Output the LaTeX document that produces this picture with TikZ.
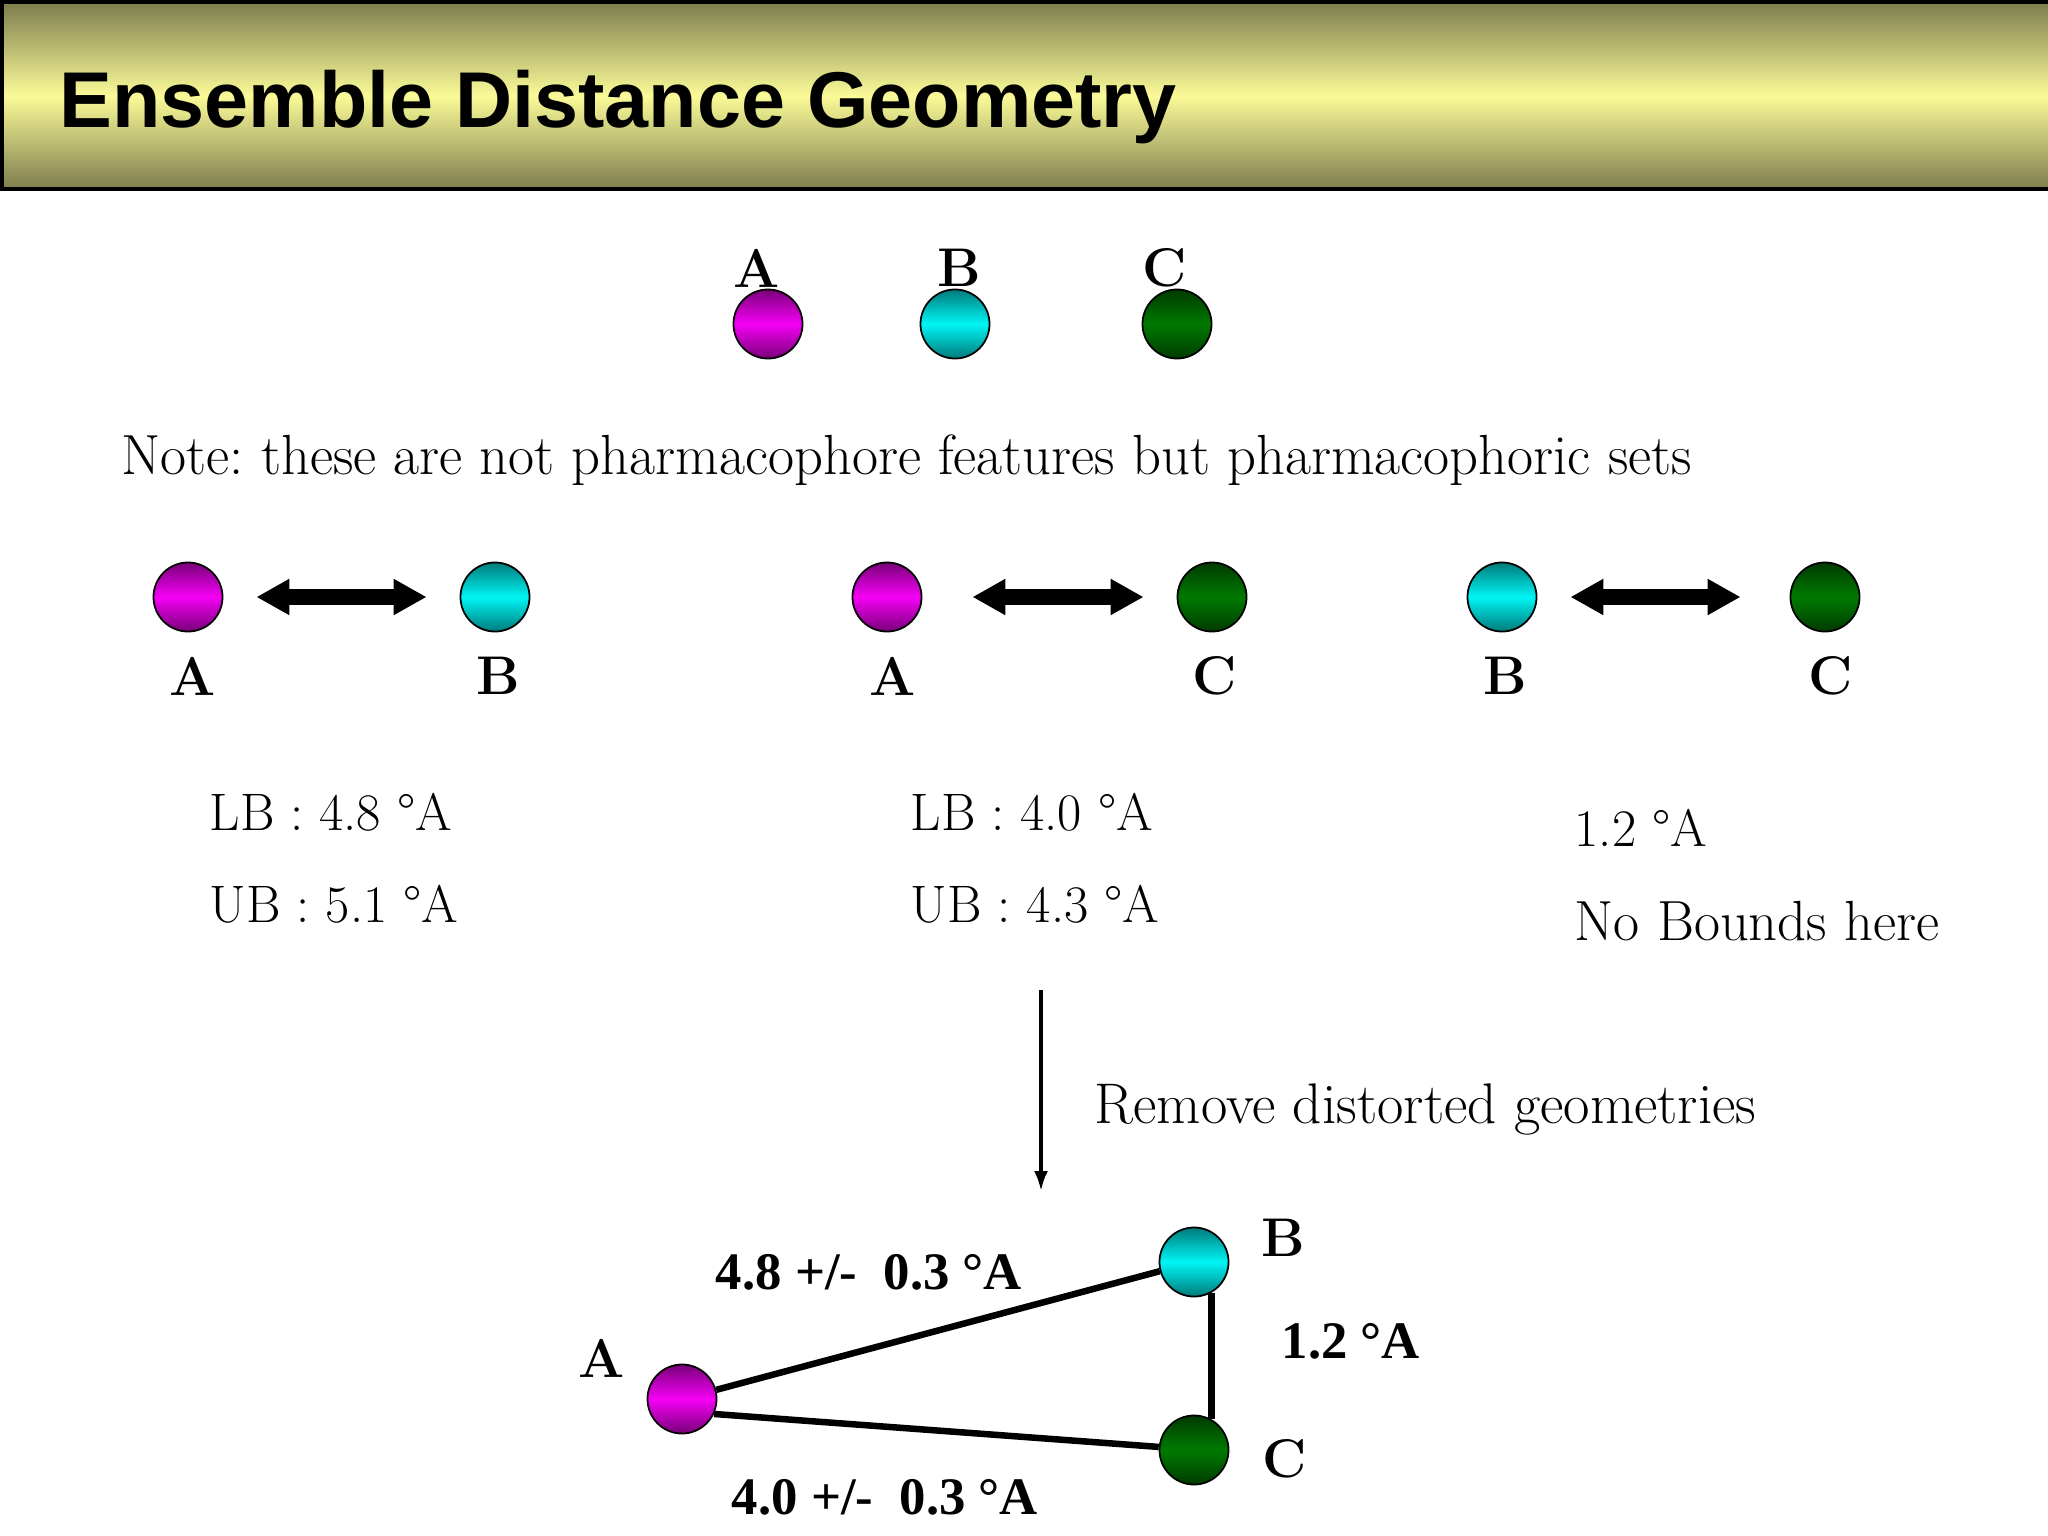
\documentclass[tikz,border=0pt]{standalone}
\usepackage{fontspec}
\newfontfamily\headfont{Liberation Sans}
\newfontfamily\timesfont{Liberation Serif}
\usetikzlibrary{arrows.meta, positioning}
\definecolor{oliveedge}{RGB}{125,125,78}
\definecolor{olivelight}{RGB}{250,250,152}
\definecolor{magdark}{RGB}{120,0,120}
\definecolor{magbright}{RGB}{245,0,245}
\definecolor{cyandark}{RGB}{0,122,122}
\definecolor{cyanbright}{RGB}{0,245,245}
\definecolor{greendark}{RGB}{0,58,0}
\definecolor{greenbright}{RGB}{0,122,0}
\frenchspacing

\begin{document}
\begin{tikzpicture}[x=0.01cm, y=-0.01cm,
  ball/.style={circle, draw=black, line width=0.5pt, minimum size=0.69cm, inner sep=0pt},
  balla/.style={ball, top color=magdark, bottom color=magdark, middle color=magbright},
  ballb/.style={ball, top color=cyandark, bottom color=cyandark, middle color=cyanbright},
  ballc/.style={ball, top color=greendark, bottom color=greendark, middle color=greenbright},
  letter/.style={inner sep=0pt, font=\fontsize{15.5}{18}\selectfont\bfseries},
  plain/.style={anchor=base west, inner sep=0pt, font=\fontsize{16.1}{19}\selectfont},
  bound/.style={anchor=base west, inner sep=0pt, font=\fontsize{15}{18}\selectfont},
  tlabel/.style={inner sep=0pt, font=\timesfont\fontsize{15}{18}\selectfont\bfseries},
  dist/.style={line width=0.16cm, {Triangle[length=0.33cm,width=0.34cm]}-{Triangle[length=0.33cm,width=0.34cm]}, shorten <=0.33cm, shorten >=0.33cm},
  bond/.style={line width=0.065cm}]
\useasboundingbox (0,0) rectangle (2048,1536);

% Title bar
\node (bar) [rectangle, draw=black, line width=1.2pt, minimum width=20.48cm, minimum height=1.87cm, inner sep=0pt, anchor=north west, top color=oliveedge, bottom color=oliveedge, middle color=olivelight] at (0,0) {};
\node (title) [anchor=base west, inner sep=0pt, font=\headfont\bfseries\fontsize{22.5}{26}\selectfont] at (59,127) {Ensemble Distance Geometry};

% The three sets
\node (topa) [balla] at (768,324) {};
\node (topb) [ballb] at (955,324) {};
\node (topc) [ballc] at (1177,324) {};
\node (topalbl) [letter] at (757,268) {A};
\node (topblbl) [letter] at (959,268) {B};
\node (topclbl) [letter] at (1165,268) {C};

\node (note) [plain] at (121,474) {Note: these are not pharmacophore features but pharmacophoric sets};

% Pairwise distances
\node (pa1) [balla] at (188,597) {};
\node (pb1) [ballb] at (495,597) {};
\node (pa2) [balla] at (887,597) {};
\node (pc2) [ballc] at (1212,597) {};
\node (pb3) [ballb] at (1502,597) {};
\node (pc3) [ballc] at (1825,597) {};
\draw [dist] (pa1) -- (pb1);
\draw [dist, shorten <=0.5cm] (pa2) -- (pc2);
\draw [dist, shorten >=0.49cm] (pb3) -- (pc3);

\node (pa1lbl) [letter] at (193,676) {A};
\node (pb1lbl) [letter] at (498,676) {B};
\node (pa2lbl) [letter] at (893,676) {A};
\node (pc2lbl) [letter] at (1215,676) {C};
\node (pb3lbl) [letter] at (1505,676) {B};
\node (pc3lbl) [letter] at (1831,676) {C};

\node (lbab) [bound] at (209,830) {LB : 4.8 °A};
\node (ubab) [bound] at (209,922) {UB : 5.1 °A};
\node (lbac) [bound] at (910,830) {LB : 4.0 °A};
\node (ubac) [bound] at (910,922) {UB : 4.3 °A};
\node (bcdist) [bound] at (1574,846) {1.2 °A};
\node (nobound) [plain] at (1574,940) {No Bounds here};

% Filtering step
\coordinate (filtertop) at (1041,990);
\coordinate (filterend) at (1041,1191);
\draw [line width=1pt, -{Latex[length=0.2cm,width=0.14cm]}] (filtertop) -- (filterend);
\node (remove) [plain, font=\fontsize{16.3}{19}\selectfont] at (1094,1123) {Remove distorted geometries};

% Resulting triangle
\node (ta) [balla] at (682,1399) {};
\node (tb) [ballb] at (1194,1262) {};
\node (tc) [ballc] at (1194,1450) {};
\draw [bond] (ta.15) -- (tb.195);
\draw [bond] (ta.-25) -- (tc.175);
\draw [bond] (tb.-60) -- (tc.60);
\node (talbl) [letter] at (602,1358) {A};
\node (tblbl) [letter] at (1283,1238) {B};
\node (tclbl) [letter] at (1285,1459) {C};
\node (abval) [tlabel] at (869,1272) {4.8 +/-~ 0.3 °A};
\node (bcval) [tlabel, anchor=west] at (1281,1341) {1.2 °A};
\node (acval) [tlabel] at (885,1497) {4.0 +/-~ 0.3 °A};
\end{tikzpicture}
\end{document}
